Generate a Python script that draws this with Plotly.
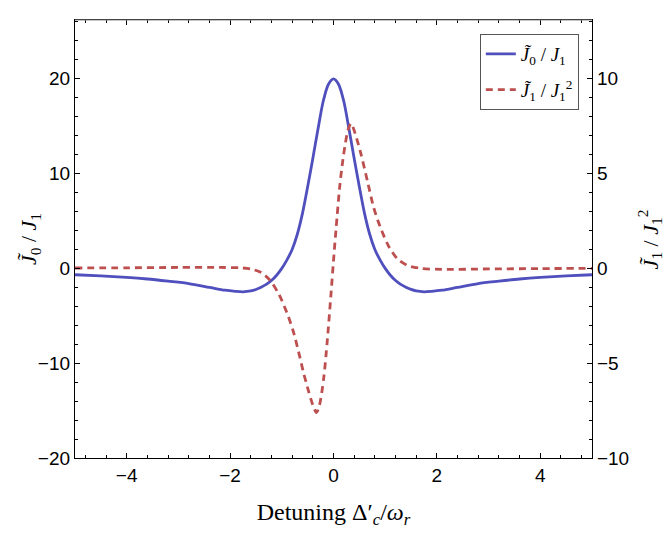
import plotly.graph_objects as go

# Detuning values (x) and curves
x_j0 = [-5.0, -4.5, -4.0, -3.6, -3.2, -2.8, -2.4, -2.1, -1.9, -1.75, -1.6, -1.5, -1.4, -1.3, -1.2, -1.1,
        -1.0, -0.9, -0.8, -0.7, -0.6, -0.5, -0.4, -0.3, -0.2, -0.1, 0.0,
        0.1, 0.2, 0.3, 0.4, 0.5, 0.6, 0.7, 0.8, 0.9, 1.0, 1.1, 1.2, 1.3, 1.4, 1.5, 1.6,
        1.75, 1.9, 2.1, 2.4, 2.8, 3.2, 3.6, 4.0, 4.5, 5.0]
y_j0 = [-0.67, -0.8, -0.95, -1.12, -1.35, -1.6, -2.0, -2.3, -2.42, -2.47, -2.38, -2.22, -1.98, -1.68, -1.28, -0.72,
        0.0, 0.9, 2.0, 3.6, 5.8, 8.6, 11.6, 14.7, 17.6, 19.4, 20.0,
        19.4, 17.6, 14.7, 11.6, 8.6, 5.8, 3.6, 2.0, 0.9, 0.0, -0.72, -1.28, -1.68, -1.98, -2.22, -2.38,
        -2.47, -2.42, -2.3, -2.0, -1.6, -1.35, -1.12, -0.95, -0.8, -0.67]

x_j1 = [-5.0, -4.0, -3.0, -2.2, -1.8, -1.6, -1.4, -1.23, -1.05, -0.9, -0.78, -0.675, -0.58, -0.48, -0.4,
        -0.33, -0.27, -0.19, -0.12, -0.05, 0.0, 0.05, 0.12, 0.18, 0.23, 0.28, 0.34, 0.42, 0.525, 0.66,
        0.78, 0.91, 1.08, 1.24, 1.43, 1.69, 2.1, 3.0, 4.0, 5.0]
y_j1 = [0.02, 0.03, 0.05, 0.05, 0.03, -0.03, -0.22, -0.62, -1.4, -2.35, -3.3, -4.4, -5.5, -6.5, -7.2,
        -7.6, -7.2, -5.8, -3.8, -1.4, 0.4, 2.1, 4.3, 5.7, 6.6, 7.3, 7.65, 7.1, 6.1, 4.56,
        3.18, 2.14, 1.1, 0.5, 0.16, 0.0, -0.05, -0.03, -0.01, 0.0]

name_j0 = "<i>J̃</i><sub>0</sub> / <i>J</i><sub>1</sub>"
name_j1 = "<i>J̃</i><sub>1</sub> / <i>J</i><sub>1</sub><sup>2</sup>"
x_title = "Detuning Δ′<sub><i>c</i></sub>/<i>ω</i><sub><i>r</i></sub>"

x_ticks = [-4, -2, 0, 2, 4]
y_ticks_left = [-20, -10, 0, 10, 20]
y_ticks_right = [-10, -5, 0, 5, 10]

BLUE = "#4F4FBD"
RED = "#BD4F4F"
SERIF = "Liberation Serif"
SANS = "Liberation Sans"

fig = go.Figure()
fig.add_trace(go.Scatter(x=x_j0, y=y_j0, mode="lines", name=name_j0, legendgroup="a",
                         line=dict(color=BLUE, width=2.8, shape="spline", smoothing=0.8)))
fig.add_trace(go.Scatter(x=x_j1, y=y_j1, mode="lines", name=name_j1, yaxis="y2", legendgroup="b",
                         line=dict(color=RED, width=2.8, dash="7px,5px", shape="spline", smoothing=0.8)))

axis_common = dict(showgrid=False, zeroline=False, showline=True, linecolor="black", linewidth=1.2,
                   ticks="inside", ticklen=5, tickwidth=1, tickcolor="black", automargin=False,
                   tickfont=dict(family=SANS, size=19, color="black"))

fig.update_layout(
    width=664, height=540,
    margin=dict(l=75, r=72, t=20, b=82),
    paper_bgcolor="white", plot_bgcolor="white",
    xaxis=dict(range=[-5, 5], tickvals=x_ticks, mirror="ticks",
               minor=dict(ticks="inside", ticklen=3, dtick=0.4, tick0=0, tickcolor="black"),
               title=dict(text=x_title, font=dict(family=SERIF, size=24, color="black"), standoff=18),
               **axis_common),
    yaxis=dict(range=[-20, 26.2], tickvals=y_ticks_left,
               minor=dict(ticks="inside", ticklen=3, dtick=2, tick0=0, tickcolor="black"),
               **axis_common),
    yaxis2=dict(range=[-10, 13.1], tickvals=y_ticks_right, overlaying="y", side="right",
                minor=dict(ticks="inside", ticklen=3, dtick=1, tick0=0, tickcolor="black"),
                **axis_common),
    legend=dict(x=0.783, y=0.968, xanchor="left", yanchor="top",
                bgcolor="white", bordercolor="#555555", borderwidth=1,
                font=dict(family=SERIF, size=19, color="black"),
                itemwidth=30, tracegroupgap=8),
    showlegend=True,
)

# y-axis titles placed as rotated annotations
fig.add_annotation(text=name_j0, xref="paper", yref="paper", x=-0.087, y=0.5,
                   xanchor="center", yanchor="middle", textangle=-90, showarrow=False,
                   font=dict(family=SERIF, size=22, color="black"))
fig.add_annotation(text=name_j1, xref="paper", yref="paper", x=1.111, y=0.5,
                   xanchor="center", yanchor="middle", textangle=-90, showarrow=False,
                   font=dict(family=SERIF, size=22, color="black"))

fig.add_shape(type="line", xref="paper", yref="paper", x0=0, x1=1, y0=1, y1=1,
              line=dict(color="#8a8a8a", width=1.2), layer="above")

fig.write_html("out.html", config={"displayModeBar": False},
               post_script="document.body.style.margin='0';document.body.style.overflow='hidden';")
